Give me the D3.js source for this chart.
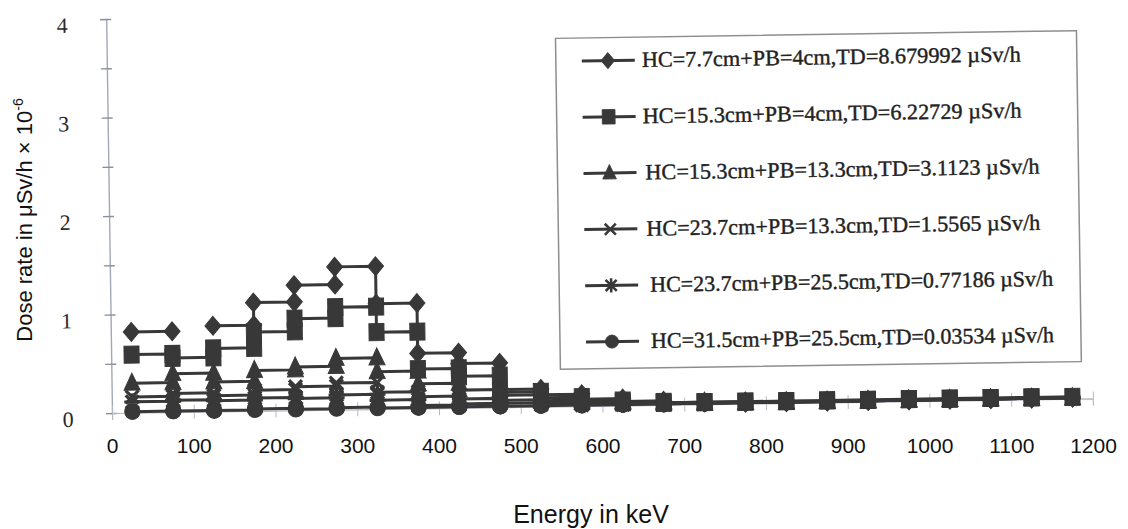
<!DOCTYPE html>
<html>
<head>
<meta charset="utf-8">
<script src="https://cdn.jsdelivr.net/npm/d3@7"></script>
<style>
  body { margin: 0; background: #fff; }
  svg { display: block; }
</style>
</head>
<body>
<div id="chart"></div>
<script>
// energy bins, 50 keV wide, start of each bin
const binStart = [25, 75, 125, 175, 225, 275, 325, 375, 425, 475, 525, 575, 625,
                  675, 725, 775, 825, 875, 925, 975, 1025, 1075, 1125]
const binWidth = 50

// dose rate per bin (uSv/h x 1e-6)
const hc77pb4 = [0.82, null, 0.87, 1.10, 1.27, 1.45, 1.07, 0.56, 0.45, 0.18, 0.12, 0.07, 0.04,
                 0.02, 0.02, 0.01, 0.01, 0.01, 0.01, 0.01, 0.01, 0.01, 0.01]
const hc153pb4 = [0.59, 0.55, 0.64, 0.80, 0.93, 1.04, 0.78, 0.40, 0.32, 0.15, 0.09, 0.05, 0.03,
                  0.02, 0.02, 0.02, 0.02, 0.02, 0.02, 0.02, 0.02, 0.02, 0.02]
const hc153pb133 = [0.30, 0.39, 0.30, 0.41, 0.44, 0.52, 0.38, 0.25, 0.18, 0.12, 0.06, 0.04, 0.03,
                    0.02, 0.01, 0.01, 0.01, 0.01, 0.01, 0.01, 0.01, 0.01, 0.01]
const hc237pb133 = [0.16, 0.19, 0.16, 0.21, 0.24, 0.27, 0.17, 0.12, 0.09, 0.07, 0.04, 0.03, 0.02,
                    0.01, 0.01, 0.01, 0.01, 0.01, 0.01, 0.01, 0.01, 0.01, 0.01]
const hc237pb255 = [0.11, 0.12, 0.11, 0.13, 0.12, 0.15, 0.09, 0.03, 0.04, 0.04, 0.02, 0.01, 0.01,
                    0.01, 0.01, 0.01, 0.01, 0.01, 0.01, 0.01, 0.01, 0.01, 0.01]
const hc315pb255 = [0.01, 0.01, 0.01, 0.02, 0.01, 0.02, 0.01, 0.01, 0.01, 0.01, 0.01, 0.01, 0.01,
                    0.01, 0.01, 0.01, 0.01, 0.01, 0.01, 0.01, 0.01, 0.01, 0.01]

const seriesNames = [
  "HC=7.7cm+PB=4cm,TD=8.679992 \u00b5Sv/h",
  "HC=15.3cm+PB=4cm,TD=6.22729 \u00b5Sv/h",
  "HC=15.3cm+PB=13.3cm,TD=3.1123 \u00b5Sv/h",
  "HC=23.7cm+PB=13.3cm,TD=1.5565 \u00b5Sv/h",
  "HC=23.7cm+PB=25.5cm,TD=0.77186 \u00b5Sv/h",
  "HC=31.5cm+PB=25.5cm,TD=0.03534 \u00b5Sv/h"
]
const seriesMarkers = ["diamond", "square", "triangle", "x", "star", "circle"]
const seriesValues = [hc77pb4, hc153pb4, hc153pb133, hc237pb133, hc237pb255, hc315pb255]

const xTicks = [0, 100, 200, 300, 400, 500, 600, 700, 800, 900, 1000, 1100, 1200]
const yTicks = [0, 0.5, 1, 1.5, 2, 2.5, 3, 3.5, 4]

const width = 1128
const height = 529
const ink = "#383838"

const svg = d3.select("#chart").append("svg")
  .attr("width", width)
  .attr("height", height)

const x = d3.scaleLinear().domain([0, 1200]).range([112, 1093])
const y = d3.scaleLinear().domain([0, 4]).range([413, 19])

// the scanned chart is a little tilted, so the plot sits in a rotated group
const plot = svg.append("g").attr("transform", "rotate(-0.85,112,413)")

// y axis with ticks crossing the line
const yAxis = plot.append("g")
  .attr("transform", "translate(" + x(0) + ",0)")
  .call(d3.axisLeft(y).tickValues(yTicks).tickSize(6)
    .tickFormat(function(d){ return Number.isInteger(d) ? d : "" }))
yAxis.select(".domain").attr("stroke", "#a3a8b8").attr("stroke-width", 1.4)
yAxis.selectAll(".tick line").attr("x2", -6).attr("x1", 5).attr("stroke", "#8a8f9c").attr("stroke-width", 1.4)
yAxis.selectAll(".tick text")
  .attr("x", -44)
  .attr("dy", "0.35em")
  .attr("transform", "translate(0,5)")
  .attr("text-anchor", "middle")
  .attr("fill", "#2a2a2a")
  .style("font-family", "'Liberation Serif', 'DejaVu Serif', serif")
  .style("font-size", "22px")

// x axis line and small ticks (labels are drawn separately, untilted)
const xAxis = plot.append("g")
  .attr("transform", "translate(0," + y(0) + ")")
  .call(d3.axisBottom(x).tickValues(xTicks).tickSize(7).tickFormat(""))
xAxis.select(".domain").attr("stroke", "#b0b4bf").attr("stroke-width", 1.2)
xAxis.selectAll(".tick line").attr("y1", -7).attr("stroke", "#b6bac4")

// marker shapes
function markerPath(type) {
  if (type == "diamond") return "M0,-9.5L8,0L0,9.5L-8,0Z"
  if (type == "square") return "M-7.5,-8.5H7.5V8.5H-7.5Z"
  if (type == "triangle") return "M0,-10L8,7L-8,7Z"
  if (type == "x") return "M-6.5,-6.5L6.5,6.5M-6.5,6.5L6.5,-6.5"
  if (type == "star") return "M-6.5,-6.5L6.5,6.5M-6.5,6.5L6.5,-6.5M0,-8.5L0,8.5M-8,0L8,0"
  return d3.symbol(d3.symbolCircle, 185)()
}
function isOpen(type) { return type == "x" || type == "star" }

// step points: two points per bin (its two edges)
function stepPoints(values) {
  let pts = []
  for (i = 0; i < values.length; i++) {
    if (values[i] == null) { pts.push(null); continue }
    pts.push({e: binStart[i], v: values[i]})
    pts.push({e: binStart[i] + binWidth, v: values[i]})
  }
  return pts
}

const line = d3.line()
  .defined(function(d){ return d != null })
  .x(function(d){ return x(d.e) })
  .y(function(d){ return y(d.v) })

seriesValues.forEach(function(values, s) {
  const pts = stepPoints(values)
  const g = plot.append("g").attr("class", "series")
  g.append("path")
    .attr("d", line(pts))
    .attr("fill", "none")
    .attr("stroke", ink)
    .attr("stroke-width", 3)

  g.selectAll(".mark")
    .data(pts.filter(function(d){ return d != null }))
    .enter()
    .append("path")
    .attr("class", "mark")
    .attr("transform", function(d){ return "translate(" + x(d.e) + "," + y(d.v) + ")" })
    .attr("d", markerPath(seriesMarkers[s]))
    .attr("fill", isOpen(seriesMarkers[s]) ? "none" : ink)
    .attr("stroke", ink)
    .attr("stroke-width", isOpen(seriesMarkers[s]) ? 3.2 : 1)
})

// legend box
const legend = plot.append("g").attr("transform", "translate(561,45)")
legend.append("rect")
  .attr("width", 521)
  .attr("height", 331)
  .attr("fill", "#fff")
  .attr("stroke", "#8e8e8e")
  .attr("stroke-width", 1.5)

seriesNames.forEach(function(name, s) {
  const row = legend.append("g").attr("transform", "translate(0," + (23 + s * 56.2) + ")")
  row.append("line")
    .attr("x1", 26).attr("x2", 79)
    .attr("stroke", ink).attr("stroke-width", 3)
  row.append("path")
    .attr("transform", "translate(52,0) scale(0.85)")
    .attr("d", markerPath(seriesMarkers[s]))
    .attr("fill", isOpen(seriesMarkers[s]) ? "none" : ink)
    .attr("stroke", ink)
    .attr("stroke-width", isOpen(seriesMarkers[s]) ? 3 : 1)
  row.append("text")
    .attr("x", 86 + (s >= 2 ? 2 : 0) + (s >= 4 ? 3 : 0))
    .attr("y", 7)
    .attr("textLength", [379, 379, 394, 394, 403, 403][s])
    .attr("lengthAdjust", "spacingAndGlyphs")
    .attr("fill", "#222")
    .attr("stroke", "#222")
    .attr("stroke-width", 0.4)
    .style("font-family", "'Liberation Serif', 'DejaVu Serif', serif")
    .style("font-size", "22px")
    .text(name)
})

// x tick labels and axis titles (not tilted)
const xLabels = svg.append("g")
  .attr("transform", "translate(0,438)")
  .call(d3.axisBottom(x).tickValues(xTicks).tickSize(0).tickPadding(0).tickFormat(d3.format("d")))
xLabels.select(".domain").remove()
xLabels.selectAll("text")
  .attr("fill", "#111")
  .style("font-family", "'Liberation Sans', Arial, sans-serif")
  .style("font-size", "21px")

svg.append("text")
  .attr("x", 591)
  .attr("y", 523)
  .attr("text-anchor", "middle")
  .attr("fill", "#111")
  .style("font-family", "'Liberation Sans', Arial, sans-serif")
  .style("font-size", "25px")
  .text("Energy in keV")

const yTitle = svg.append("text")
  .attr("transform", "translate(32,220) rotate(-90)")
  .attr("text-anchor", "middle")
  .attr("fill", "#111")
  .style("font-family", "'Liberation Sans', Arial, sans-serif")
  .style("font-size", "22px")
yTitle.append("tspan").text("Dose rate in \u03bcSv/h \u00d7 10")
yTitle.append("tspan").attr("dy", -9).style("font-size", "14px").text("-6")
</script>
</body>
</html>
